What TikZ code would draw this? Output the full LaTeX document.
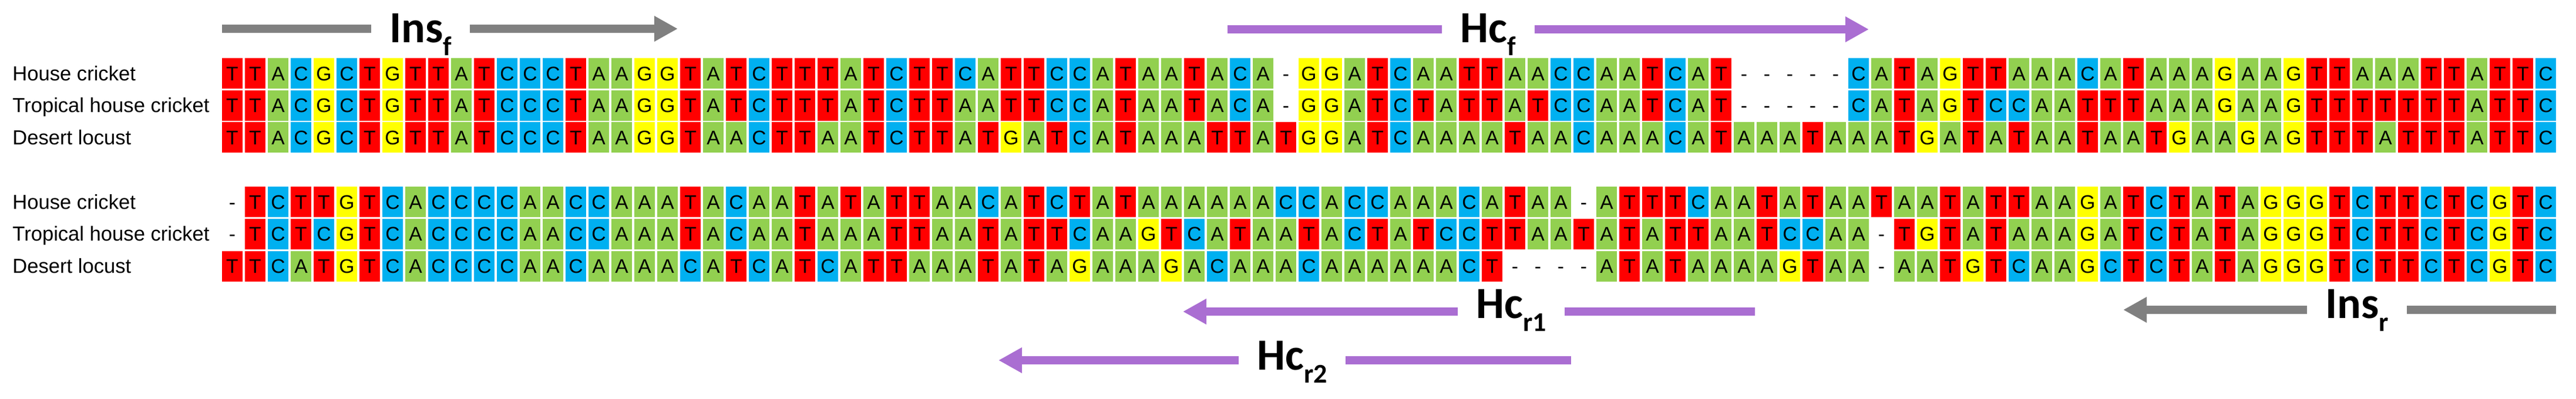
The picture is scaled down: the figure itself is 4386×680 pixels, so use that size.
\documentclass[tikz,border=0pt]{standalone}
\usepackage{fontspec}
\setmainfont{Liberation Sans}
\newfontfamily\primerfont{Carlito}
\usetikzlibrary{arrows.meta}

\definecolor{baseA}{RGB}{146,208,80}
\definecolor{baseC}{RGB}{0,176,240}
\definecolor{baseG}{RGB}{255,255,0}
\definecolor{baseT}{RGB}{255,0,0}
\definecolor{insgray}{RGB}{128,128,128}
\definecolor{hcpurple}{RGB}{170,110,210}

\newcommand{\seqfont}{\fontsize{16.8}{18}\selectfont}
\newcommand{\primersub}[2]{#1\raisebox{-11pt}{\fontsize{23}{23}\selectfont #2}}

% one row of the alignment: name, top edge, letters
\newcommand{\seqrow}[3]{%
  \def\seqname{#1}\def\seqtop{#2}\def\seqcol{0}%
  \seqnext#3\relax}
\newcommand{\seqnext}[1]{%
  \ifx\relax#1\else
    \seqcell{#1}%
    \pgfmathtruncatemacro{\seqcol}{\seqcol+1}%
    \expandafter\seqnext
  \fi}
\newcommand{\seqcell}[1]{%
  \if-#1%
    \node[gapcell] (\seqname-\seqcol) at ({395.5+39*\seqcol},{\seqtop+26}) {-};%
  \else
    \node[basecell,fill=base#1] (\seqname-\seqcol) at ({395.5+39*\seqcol},{\seqtop+26}) {#1};%
  \fi}

\tikzset{
  basecell/.style={minimum width=17.5pt, minimum height=26pt, inner sep=0pt,
    text height=12pt, text depth=0pt, font=\seqfont},
  gapcell/.style={basecell},
  rowlabel/.style={anchor=west, inner sep=0pt, text height=12pt, text depth=0pt,
    font=\fontsize{17.3}{18}\selectfont},
  primer/.style={anchor=base, inner xsep=15.5pt, inner ysep=0pt,
    font=\primerfont\bfseries\fontsize{38}{40}\selectfont},
  grayshaft/.style={draw=insgray, line width=7pt},
  purpleshaft/.style={draw=hcpurple, line width=7pt},
  primerhead/.style={-{Triangle[length=20pt,width=20.5pt]}}
}

\begin{document}
\begin{tikzpicture}[x=0.5pt, y=-0.5pt]
  \useasboundingbox (0,0) rectangle (4386,680);

  % first block
  \node[rowlabel] (hcone)  at (21,125)   {House cricket};
  \node[rowlabel] (thcone) at (21,179.7) {Tropical house cricket};
  \node[rowlabel] (dlone)  at (21,234.4) {Desert locust};

  \seqrow{hca}{99}{TTACGCTGTTATCCCTAAGGTATCTTTATCTTCATTCCATAATACA-GGATCAATTAACCAATCAT-----CATAGTTAAACATAAAGAAGTTAAATTATTC}
  \seqrow{thca}{153.7}{TTACGCTGTTATCCCTAAGGTATCTTTATCTTAATTCCATAATACA-GGATCTATTATCCAATCAT-----CATAGTCCAATTTAAAGAAGTTTTTTTATTC}
  \seqrow{dla}{208.4}{TTACGCTGTTATCCCTAAGGTAACTTAATCTTATGATCATAAATTATGGATCAAAATAACAAACATAAATAAATGATATAATAATGAAGAGTTTATTTATTC}

  % second block
  \node[rowlabel] (hctwo)  at (21,344)   {House cricket};
  \node[rowlabel] (thctwo) at (21,398.8) {Tropical house cricket};
  \node[rowlabel] (dltwo)  at (21,453.6) {Desert locust};

  \seqrow{hcb}{318}{-TCTTGTCACCCCAACCAAATACAATATATTAACATCTATAAAAAACCACCAAACATAA-ATTTCAATATAATAATATTAAGATCTATAGGGTCTTCTCGTC}
  \seqrow{thcb}{372.8}{-TCTCGTCACCCCAACCAAATACAATAAATTAATATTCAAGTCATAATACTATCCTTAATATATTAATCCAA-TGTATAAAGATCTATAGGGTCTTCTCGTC}
  \seqrow{dlb}{427.6}{TTCATGTCACCCCAACAAAACATCATCATTAAATATAGAAAGACAAACAAAAAACT----ATATAAAAGTAA-AATGTCAAGCTCTATAGGGTCTTCTCGTC}

  % primers
  \node[primer] (insf)   at (716,72)     {\primersub{Ins}{f}};
  \node[primer] (hcf)    at (2534,72)    {\primersub{Hc}{f}};
  \node[primer] (hcrone) at (2573,542)   {\primersub{Hc}{r1}};
  \node[primer] (hcrtwo) at (2200,630)   {\primersub{Hc}{r2}};
  \node[primer] (insr)   at (4013,542)   {\primersub{Ins}{r}};

  \coordinate (insfL) at (378,49);
  \coordinate (insfR) at (1154,49);
  \coordinate (hcfL) at (2090,50);
  \coordinate (hcfR) at (3182,50);
  \coordinate (hcroneL) at (2014,531);
  \coordinate (hcroneR) at (2988,531);
  \coordinate (hcrtwoL) at (1700,614);
  \coordinate (hcrtwoR) at (2675,614);
  \coordinate (insrL) at (3615,528);
  \coordinate (insrR) at (4352,528);

  \draw[grayshaft] (insfL) -- (insfL -| insf.west);
  \draw[grayshaft,primerhead] (insfR -| insf.east) -- (insfR);
  \draw[purpleshaft] (hcfL) -- (hcfL -| hcf.west);
  \draw[purpleshaft,primerhead] (hcfR -| hcf.east) -- (hcfR);

  \draw[purpleshaft,primerhead] (hcroneL -| hcrone.west) -- (hcroneL);
  \draw[purpleshaft] (hcroneR -| hcrone.east) -- (hcroneR);
  \draw[purpleshaft,primerhead] (hcrtwoL -| hcrtwo.west) -- (hcrtwoL);
  \draw[purpleshaft] (hcrtwoR -| hcrtwo.east) -- (hcrtwoR);
  \draw[grayshaft,primerhead] (insrL -| insr.west) -- (insrL);
  \draw[grayshaft] (insrR -| insr.east) -- (insrR);

\end{tikzpicture}
\end{document}
